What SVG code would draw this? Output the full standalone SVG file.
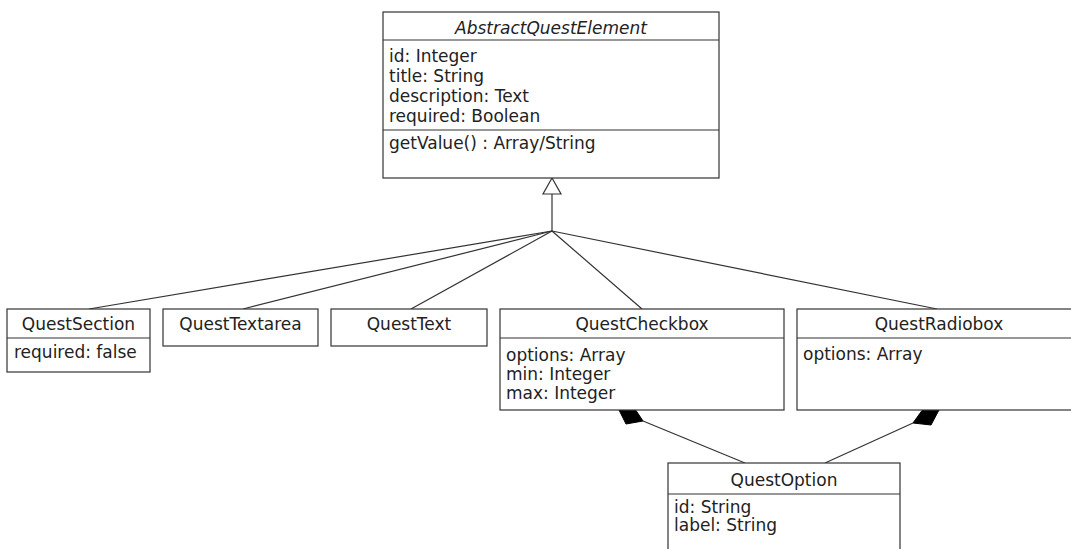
<svg xmlns="http://www.w3.org/2000/svg" width="1071" height="549" viewBox="0 0 1071 549">
<style>
.box{fill:#fff;stroke:#333;stroke-width:1.2}
.div{stroke:#333;stroke-width:1.2}
.t{font-family:"DejaVu Sans","Liberation Sans",sans-serif;font-size:17px;fill:#222}
.c{text-anchor:middle}
.i{font-style:italic}
.ln{stroke:#333;stroke-width:1.2;fill:none}
.dia{fill:#000;stroke:#000;stroke-width:1}
.tri{fill:#fff;stroke:#333;stroke-width:1.2}
</style>
<rect width="1071" height="549" fill="#fff"/>
<g id="connectors">
<line class="ln" x1="552" y1="194" x2="552" y2="231"/>
<line class="ln" x1="552" y1="231" x2="89" y2="309"/>
<line class="ln" x1="552" y1="231" x2="243" y2="309"/>
<line class="ln" x1="552" y1="231" x2="411" y2="309"/>
<line class="ln" x1="552" y1="231" x2="642" y2="309"/>
<line class="ln" x1="552" y1="231" x2="937" y2="309"/>
<polygon class="tri" points="552,178 543,194 561,194"/>
<line class="ln" x1="745" y1="463" x2="643" y2="421"/>
<polygon class="dia" points="619,410 636,410.5 643,421 626,424"/>
<line class="ln" x1="825" y1="463" x2="913" y2="423"/>
<polygon class="dia" points="939,410 922,410.5 913,423 931,425"/>
</g>
<g id="AbstractQuestElement">
<rect class="box" x="383" y="12" width="336" height="166"/>
<line class="div" x1="383" y1="40" x2="719" y2="40"/>
<line class="div" x1="383" y1="130" x2="719" y2="130"/>
<text class="t c i" x="551" y="34">AbstractQuestElement</text>
<text class="t" x="389" y="62">id: Integer</text>
<text class="t" x="389" y="82">title: String</text>
<text class="t" x="389" y="102">description: Text</text>
<text class="t" x="389" y="122">required: Boolean</text>
<text class="t" x="389" y="149">getValue() : Array/String</text>
</g>
<g id="QuestSection">
<rect class="box" x="7" y="309" width="143" height="63"/>
<line class="div" x1="7" y1="338" x2="150" y2="338"/>
<text class="t c" x="78.5" y="330">QuestSection</text>
<text class="t" x="14" y="358">required: false</text>
</g>
<g id="QuestTextarea">
<rect class="box" x="163" y="309" width="155" height="37"/>
<text class="t c" x="240.5" y="330">QuestTextarea</text>
</g>
<g id="QuestText">
<rect class="box" x="331" y="309" width="156" height="37"/>
<text class="t c" x="409" y="330">QuestText</text>
</g>
<g id="QuestCheckbox">
<rect class="box" x="500" y="309" width="284" height="101"/>
<line class="div" x1="500" y1="338" x2="784" y2="338"/>
<text class="t c" x="642" y="330">QuestCheckbox</text>
<text class="t" x="506" y="361">options: Array</text>
<text class="t" x="506" y="380">min: Integer</text>
<text class="t" x="506" y="399">max: Integer</text>
</g>
<g id="QuestRadiobox">
<rect class="box" x="797" y="309" width="284" height="101"/>
<line class="div" x1="797" y1="338" x2="1081" y2="338"/>
<text class="t c" x="939" y="330">QuestRadiobox</text>
<text class="t" x="803" y="360">options: Array</text>
</g>
<g id="QuestOption">
<rect class="box" x="668" y="463" width="232" height="100"/>
<line class="div" x1="668" y1="494" x2="900" y2="494"/>
<text class="t c" x="784" y="486">QuestOption</text>
<text class="t" x="674" y="513">id: String</text>
<text class="t" x="674" y="531">label: String</text>
</g>
</svg>
